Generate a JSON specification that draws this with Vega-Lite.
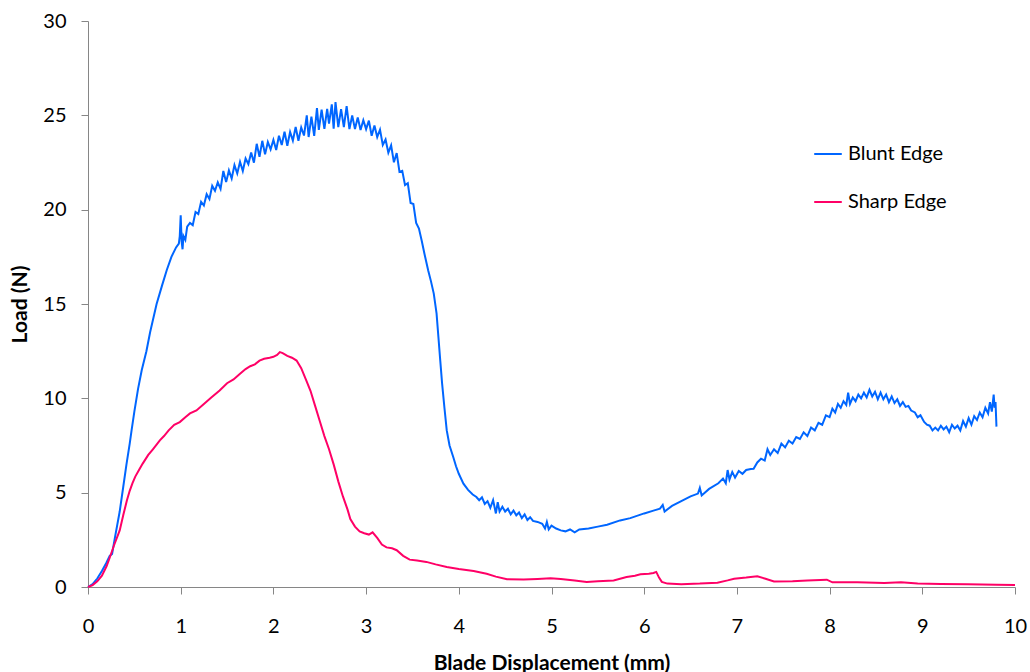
{
"$schema": "https://vega.github.io/schema/vega-lite/v6.json",
"width": 927, "height": 566,
"autosize": {"type": "none"},
"padding": {"left": 88, "top": 21, "right": 15, "bottom": 85},
"background": "white",
"config": {"font": "Lato", "view": {"stroke": null}},
"data": {"values": [
{"series":"Blunt Edge","mm":0,"N":0},
{"series":"Blunt Edge","mm":0.05,"N":0.15},
{"series":"Blunt Edge","mm":0.1,"N":0.45},
{"series":"Blunt Edge","mm":0.15,"N":0.85},
{"series":"Blunt Edge","mm":0.2,"N":1.3},
{"series":"Blunt Edge","mm":0.234,"N":1.65},
{"series":"Blunt Edge","mm":0.26,"N":1.75},
{"series":"Blunt Edge","mm":0.29,"N":2.6},
{"series":"Blunt Edge","mm":0.342,"N":4.0},
{"series":"Blunt Edge","mm":0.38,"N":5.3},
{"series":"Blunt Edge","mm":0.415,"N":6.5},
{"series":"Blunt Edge","mm":0.45,"N":7.6},
{"series":"Blunt Edge","mm":0.47,"N":8.3},
{"series":"Blunt Edge","mm":0.5,"N":9.3},
{"series":"Blunt Edge","mm":0.54,"N":10.5},
{"series":"Blunt Edge","mm":0.58,"N":11.5},
{"series":"Blunt Edge","mm":0.63,"N":12.5},
{"series":"Blunt Edge","mm":0.67,"N":13.5},
{"series":"Blunt Edge","mm":0.74,"N":15.0},
{"series":"Blunt Edge","mm":0.8,"N":16.0},
{"series":"Blunt Edge","mm":0.85,"N":16.8},
{"series":"Blunt Edge","mm":0.9,"N":17.5},
{"series":"Blunt Edge","mm":0.95,"N":18.0},
{"series":"Blunt Edge","mm":0.98,"N":18.2},
{"series":"Blunt Edge","mm":0.99,"N":18.6},
{"series":"Blunt Edge","mm":1.0,"N":19.7},
{"series":"Blunt Edge","mm":1.01,"N":18.3},
{"series":"Blunt Edge","mm":1.02,"N":17.9},
{"series":"Blunt Edge","mm":1.03,"N":18.6},
{"series":"Blunt Edge","mm":1.05,"N":18.4},
{"series":"Blunt Edge","mm":1.07,"N":19.1},
{"series":"Blunt Edge","mm":1.10,"N":19.3},
{"series":"Blunt Edge","mm":1.13,"N":19.18},
{"series":"Blunt Edge","mm":1.16,"N":19.88},
{"series":"Blunt Edge","mm":1.19,"N":19.77},
{"series":"Blunt Edge","mm":1.22,"N":20.42},
{"series":"Blunt Edge","mm":1.25,"N":20.22},
{"series":"Blunt Edge","mm":1.28,"N":20.82},
{"series":"Blunt Edge","mm":1.31,"N":20.57},
{"series":"Blunt Edge","mm":1.34,"N":21.26},
{"series":"Blunt Edge","mm":1.37,"N":21.0},
{"series":"Blunt Edge","mm":1.40,"N":21.45},
{"series":"Blunt Edge","mm":1.43,"N":21.1},
{"series":"Blunt Edge","mm":1.46,"N":22.05},
{"series":"Blunt Edge","mm":1.49,"N":21.46},
{"series":"Blunt Edge","mm":1.52,"N":22.08},
{"series":"Blunt Edge","mm":1.55,"N":21.65},
{"series":"Blunt Edge","mm":1.58,"N":22.36},
{"series":"Blunt Edge","mm":1.61,"N":21.92},
{"series":"Blunt Edge","mm":1.64,"N":22.54},
{"series":"Blunt Edge","mm":1.67,"N":22.05},
{"series":"Blunt Edge","mm":1.70,"N":22.71},
{"series":"Blunt Edge","mm":1.73,"N":22.42},
{"series":"Blunt Edge","mm":1.76,"N":23.03},
{"series":"Blunt Edge","mm":1.79,"N":22.49},
{"series":"Blunt Edge","mm":1.82,"N":23.49},
{"series":"Blunt Edge","mm":1.85,"N":22.8},
{"series":"Blunt Edge","mm":1.88,"N":23.65},
{"series":"Blunt Edge","mm":1.91,"N":22.93},
{"series":"Blunt Edge","mm":1.94,"N":23.59},
{"series":"Blunt Edge","mm":1.97,"N":23.2},
{"series":"Blunt Edge","mm":2.00,"N":23.7},
{"series":"Blunt Edge","mm":2.03,"N":23.16},
{"series":"Blunt Edge","mm":2.06,"N":23.92},
{"series":"Blunt Edge","mm":2.09,"N":23.43},
{"series":"Blunt Edge","mm":2.12,"N":24.13},
{"series":"Blunt Edge","mm":2.15,"N":23.39},
{"series":"Blunt Edge","mm":2.18,"N":24.12},
{"series":"Blunt Edge","mm":2.21,"N":23.66},
{"series":"Blunt Edge","mm":2.24,"N":24.38},
{"series":"Blunt Edge","mm":2.27,"N":23.65},
{"series":"Blunt Edge","mm":2.30,"N":24.36},
{"series":"Blunt Edge","mm":2.33,"N":23.93},
{"series":"Blunt Edge","mm":2.36,"N":25.0},
{"series":"Blunt Edge","mm":2.38,"N":23.85},
{"series":"Blunt Edge","mm":2.41,"N":24.93},
{"series":"Blunt Edge","mm":2.44,"N":23.91},
{"series":"Blunt Edge","mm":2.47,"N":25.38},
{"series":"Blunt Edge","mm":2.49,"N":24.23},
{"series":"Blunt Edge","mm":2.52,"N":25.3},
{"series":"Blunt Edge","mm":2.55,"N":24.28},
{"series":"Blunt Edge","mm":2.58,"N":25.34},
{"series":"Blunt Edge","mm":2.60,"N":24.56},
{"series":"Blunt Edge","mm":2.63,"N":25.58},
{"series":"Blunt Edge","mm":2.65,"N":24.29},
{"series":"Blunt Edge","mm":2.67,"N":25.7},
{"series":"Blunt Edge","mm":2.70,"N":24.37},
{"series":"Blunt Edge","mm":2.73,"N":25.33},
{"series":"Blunt Edge","mm":2.76,"N":24.38},
{"series":"Blunt Edge","mm":2.79,"N":25.49},
{"series":"Blunt Edge","mm":2.82,"N":24.27},
{"series":"Blunt Edge","mm":2.85,"N":24.99},
{"series":"Blunt Edge","mm":2.88,"N":24.27},
{"series":"Blunt Edge","mm":2.91,"N":24.89},
{"series":"Blunt Edge","mm":2.94,"N":24.22},
{"series":"Blunt Edge","mm":2.97,"N":24.74},
{"series":"Blunt Edge","mm":3.00,"N":24.27},
{"series":"Blunt Edge","mm":3.03,"N":24.72},
{"series":"Blunt Edge","mm":3.06,"N":23.92},
{"series":"Blunt Edge","mm":3.09,"N":24.46},
{"series":"Blunt Edge","mm":3.12,"N":23.85},
{"series":"Blunt Edge","mm":3.15,"N":24.24},
{"series":"Blunt Edge","mm":3.18,"N":23.43},
{"series":"Blunt Edge","mm":3.21,"N":23.72},
{"series":"Blunt Edge","mm":3.24,"N":23.02},
{"series":"Blunt Edge","mm":3.27,"N":23.41},
{"series":"Blunt Edge","mm":3.30,"N":22.51},
{"series":"Blunt Edge","mm":3.33,"N":23.0},
{"series":"Blunt Edge","mm":3.36,"N":22.0},
{"series":"Blunt Edge","mm":3.39,"N":22.06},
{"series":"Blunt Edge","mm":3.42,"N":21.3},
{"series":"Blunt Edge","mm":3.45,"N":21.4},
{"series":"Blunt Edge","mm":3.48,"N":20.35},
{"series":"Blunt Edge","mm":3.51,"N":20.3},
{"series":"Blunt Edge","mm":3.54,"N":19.3},
{"series":"Blunt Edge","mm":3.57,"N":19.0},
{"series":"Blunt Edge","mm":3.60,"N":18.35},
{"series":"Blunt Edge","mm":3.63,"N":17.65},
{"series":"Blunt Edge","mm":3.67,"N":16.78},
{"series":"Blunt Edge","mm":3.70,"N":16.2},
{"series":"Blunt Edge","mm":3.73,"N":15.55},
{"series":"Blunt Edge","mm":3.76,"N":14.5},
{"series":"Blunt Edge","mm":3.78,"N":13.25},
{"series":"Blunt Edge","mm":3.80,"N":12.0},
{"series":"Blunt Edge","mm":3.82,"N":10.78},
{"series":"Blunt Edge","mm":3.845,"N":9.5},
{"series":"Blunt Edge","mm":3.87,"N":8.3},
{"series":"Blunt Edge","mm":3.90,"N":7.5},
{"series":"Blunt Edge","mm":3.94,"N":6.89},
{"series":"Blunt Edge","mm":3.97,"N":6.4},
{"series":"Blunt Edge","mm":4.00,"N":6.0},
{"series":"Blunt Edge","mm":4.05,"N":5.48},
{"series":"Blunt Edge","mm":4.10,"N":5.15},
{"series":"Blunt Edge","mm":4.15,"N":4.9},
{"series":"Blunt Edge","mm":4.19,"N":4.77},
{"series":"Blunt Edge","mm":4.22,"N":4.6},
{"series":"Blunt Edge","mm":4.25,"N":4.75},
{"series":"Blunt Edge","mm":4.28,"N":4.4},
{"series":"Blunt Edge","mm":4.31,"N":4.55},
{"series":"Blunt Edge","mm":4.34,"N":4.2},
{"series":"Blunt Edge","mm":4.37,"N":4.6},
{"series":"Blunt Edge","mm":4.40,"N":3.9},
{"series":"Blunt Edge","mm":4.42,"N":4.5},
{"series":"Blunt Edge","mm":4.44,"N":4.0},
{"series":"Blunt Edge","mm":4.47,"N":4.25},
{"series":"Blunt Edge","mm":4.50,"N":4.0},
{"series":"Blunt Edge","mm":4.53,"N":4.15},
{"series":"Blunt Edge","mm":4.56,"N":3.85},
{"series":"Blunt Edge","mm":4.59,"N":4.05},
{"series":"Blunt Edge","mm":4.62,"N":3.8},
{"series":"Blunt Edge","mm":4.65,"N":3.95},
{"series":"Blunt Edge","mm":4.68,"N":3.65},
{"series":"Blunt Edge","mm":4.71,"N":3.85},
{"series":"Blunt Edge","mm":4.74,"N":3.55},
{"series":"Blunt Edge","mm":4.77,"N":3.7},
{"series":"Blunt Edge","mm":4.80,"N":3.5},
{"series":"Blunt Edge","mm":4.85,"N":3.45},
{"series":"Blunt Edge","mm":4.90,"N":3.35},
{"series":"Blunt Edge","mm":4.93,"N":3.1},
{"series":"Blunt Edge","mm":4.95,"N":3.45},
{"series":"Blunt Edge","mm":4.97,"N":3.05},
{"series":"Blunt Edge","mm":5.00,"N":3.25},
{"series":"Blunt Edge","mm":5.05,"N":3.1},
{"series":"Blunt Edge","mm":5.10,"N":3.0},
{"series":"Blunt Edge","mm":5.15,"N":2.95},
{"series":"Blunt Edge","mm":5.20,"N":3.05},
{"series":"Blunt Edge","mm":5.25,"N":2.9},
{"series":"Blunt Edge","mm":5.30,"N":3.05},
{"series":"Blunt Edge","mm":5.40,"N":3.1},
{"series":"Blunt Edge","mm":5.50,"N":3.2},
{"series":"Blunt Edge","mm":5.60,"N":3.3},
{"series":"Blunt Edge","mm":5.74,"N":3.53},
{"series":"Blunt Edge","mm":5.85,"N":3.65},
{"series":"Blunt Edge","mm":6.00,"N":3.9},
{"series":"Blunt Edge","mm":6.10,"N":4.05},
{"series":"Blunt Edge","mm":6.17,"N":4.15},
{"series":"Blunt Edge","mm":6.20,"N":4.35},
{"series":"Blunt Edge","mm":6.22,"N":4.0},
{"series":"Blunt Edge","mm":6.30,"N":4.3},
{"series":"Blunt Edge","mm":6.40,"N":4.55},
{"series":"Blunt Edge","mm":6.50,"N":4.8},
{"series":"Blunt Edge","mm":6.58,"N":4.95},
{"series":"Blunt Edge","mm":6.60,"N":5.25},
{"series":"Blunt Edge","mm":6.62,"N":4.85},
{"series":"Blunt Edge","mm":6.70,"N":5.2},
{"series":"Blunt Edge","mm":6.80,"N":5.5},
{"series":"Blunt Edge","mm":6.85,"N":5.75},
{"series":"Blunt Edge","mm":6.88,"N":5.5},
{"series":"Blunt Edge","mm":6.90,"N":6.2},
{"series":"Blunt Edge","mm":6.92,"N":5.7},
{"series":"Blunt Edge","mm":6.95,"N":6.1},
{"series":"Blunt Edge","mm":6.98,"N":5.8},
{"series":"Blunt Edge","mm":7.02,"N":6.15},
{"series":"Blunt Edge","mm":7.06,"N":6.0},
{"series":"Blunt Edge","mm":7.10,"N":6.2},
{"series":"Blunt Edge","mm":7.15,"N":6.25},
{"series":"Blunt Edge","mm":7.18,"N":6.27},
{"series":"Blunt Edge","mm":7.22,"N":6.6},
{"series":"Blunt Edge","mm":7.26,"N":6.8},
{"series":"Blunt Edge","mm":7.30,"N":6.7},
{"series":"Blunt Edge","mm":7.33,"N":7.3},
{"series":"Blunt Edge","mm":7.36,"N":7.0},
{"series":"Blunt Edge","mm":7.40,"N":7.3},
{"series":"Blunt Edge","mm":7.44,"N":7.1},
{"series":"Blunt Edge","mm":7.48,"N":7.6},
{"series":"Blunt Edge","mm":7.52,"N":7.4},
{"series":"Blunt Edge","mm":7.56,"N":7.75},
{"series":"Blunt Edge","mm":7.60,"N":7.6},
{"series":"Blunt Edge","mm":7.64,"N":7.95},
{"series":"Blunt Edge","mm":7.68,"N":7.85},
{"series":"Blunt Edge","mm":7.72,"N":8.2},
{"series":"Blunt Edge","mm":7.76,"N":8.0},
{"series":"Blunt Edge","mm":7.80,"N":8.45},
{"series":"Blunt Edge","mm":7.84,"N":8.3},
{"series":"Blunt Edge","mm":7.88,"N":8.7},
{"series":"Blunt Edge","mm":7.92,"N":8.6},
{"series":"Blunt Edge","mm":7.96,"N":9.1},
{"series":"Blunt Edge","mm":8.00,"N":9.0},
{"series":"Blunt Edge","mm":8.03,"N":9.45},
{"series":"Blunt Edge","mm":8.06,"N":9.25},
{"series":"Blunt Edge","mm":8.09,"N":9.7},
{"series":"Blunt Edge","mm":8.12,"N":9.5},
{"series":"Blunt Edge","mm":8.15,"N":9.85},
{"series":"Blunt Edge","mm":8.18,"N":9.65},
{"series":"Blunt Edge","mm":8.20,"N":10.3},
{"series":"Blunt Edge","mm":8.22,"N":9.7},
{"series":"Blunt Edge","mm":8.25,"N":10.05},
{"series":"Blunt Edge","mm":8.28,"N":9.85},
{"series":"Blunt Edge","mm":8.31,"N":10.2},
{"series":"Blunt Edge","mm":8.34,"N":10.0},
{"series":"Blunt Edge","mm":8.37,"N":10.3},
{"series":"Blunt Edge","mm":8.40,"N":10.05},
{"series":"Blunt Edge","mm":8.43,"N":10.45},
{"series":"Blunt Edge","mm":8.46,"N":10.1},
{"series":"Blunt Edge","mm":8.49,"N":10.35},
{"series":"Blunt Edge","mm":8.52,"N":9.95},
{"series":"Blunt Edge","mm":8.55,"N":10.3},
{"series":"Blunt Edge","mm":8.58,"N":9.95},
{"series":"Blunt Edge","mm":8.61,"N":10.2},
{"series":"Blunt Edge","mm":8.64,"N":9.8},
{"series":"Blunt Edge","mm":8.67,"N":10.1},
{"series":"Blunt Edge","mm":8.70,"N":9.75},
{"series":"Blunt Edge","mm":8.73,"N":9.95},
{"series":"Blunt Edge","mm":8.76,"N":9.6},
{"series":"Blunt Edge","mm":8.79,"N":9.8},
{"series":"Blunt Edge","mm":8.82,"N":9.55},
{"series":"Blunt Edge","mm":8.85,"N":9.6},
{"series":"Blunt Edge","mm":8.88,"N":9.35},
{"series":"Blunt Edge","mm":8.92,"N":9.25},
{"series":"Blunt Edge","mm":8.95,"N":9.0},
{"series":"Blunt Edge","mm":8.98,"N":9.1},
{"series":"Blunt Edge","mm":9.02,"N":8.75},
{"series":"Blunt Edge","mm":9.05,"N":8.6},
{"series":"Blunt Edge","mm":9.08,"N":8.55},
{"series":"Blunt Edge","mm":9.11,"N":8.3},
{"series":"Blunt Edge","mm":9.14,"N":8.45},
{"series":"Blunt Edge","mm":9.17,"N":8.3},
{"series":"Blunt Edge","mm":9.20,"N":8.55},
{"series":"Blunt Edge","mm":9.23,"N":8.35},
{"series":"Blunt Edge","mm":9.26,"N":8.5},
{"series":"Blunt Edge","mm":9.29,"N":8.2},
{"series":"Blunt Edge","mm":9.32,"N":8.6},
{"series":"Blunt Edge","mm":9.35,"N":8.4},
{"series":"Blunt Edge","mm":9.38,"N":8.55},
{"series":"Blunt Edge","mm":9.41,"N":8.3},
{"series":"Blunt Edge","mm":9.44,"N":8.8},
{"series":"Blunt Edge","mm":9.47,"N":8.5},
{"series":"Blunt Edge","mm":9.50,"N":8.95},
{"series":"Blunt Edge","mm":9.53,"N":8.6},
{"series":"Blunt Edge","mm":9.56,"N":9.05},
{"series":"Blunt Edge","mm":9.59,"N":8.85},
{"series":"Blunt Edge","mm":9.62,"N":9.25},
{"series":"Blunt Edge","mm":9.65,"N":9.0},
{"series":"Blunt Edge","mm":9.68,"N":9.5},
{"series":"Blunt Edge","mm":9.71,"N":9.2},
{"series":"Blunt Edge","mm":9.73,"N":9.8},
{"series":"Blunt Edge","mm":9.75,"N":9.3},
{"series":"Blunt Edge","mm":9.77,"N":10.2},
{"series":"Blunt Edge","mm":9.78,"N":9.5},
{"series":"Blunt Edge","mm":9.79,"N":9.8},
{"series":"Blunt Edge","mm":9.80,"N":8.5},
{"series":"Sharp Edge","mm":0,"N":0},
{"series":"Sharp Edge","mm":0.05,"N":0.1},
{"series":"Sharp Edge","mm":0.1,"N":0.3},
{"series":"Sharp Edge","mm":0.15,"N":0.6},
{"series":"Sharp Edge","mm":0.2,"N":1.1},
{"series":"Sharp Edge","mm":0.234,"N":1.55},
{"series":"Sharp Edge","mm":0.28,"N":2.2},
{"series":"Sharp Edge","mm":0.342,"N":3.0},
{"series":"Sharp Edge","mm":0.38,"N":3.8},
{"series":"Sharp Edge","mm":0.42,"N":4.6},
{"series":"Sharp Edge","mm":0.45,"N":5.1},
{"series":"Sharp Edge","mm":0.48,"N":5.5},
{"series":"Sharp Edge","mm":0.51,"N":5.85},
{"series":"Sharp Edge","mm":0.55,"N":6.2},
{"series":"Sharp Edge","mm":0.59,"N":6.54},
{"series":"Sharp Edge","mm":0.65,"N":7.0},
{"series":"Sharp Edge","mm":0.7,"N":7.3},
{"series":"Sharp Edge","mm":0.775,"N":7.77},
{"series":"Sharp Edge","mm":0.82,"N":8.0},
{"series":"Sharp Edge","mm":0.87,"N":8.3},
{"series":"Sharp Edge","mm":0.93,"N":8.6},
{"series":"Sharp Edge","mm":0.99,"N":8.74},
{"series":"Sharp Edge","mm":1.05,"N":9.0},
{"series":"Sharp Edge","mm":1.1,"N":9.2},
{"series":"Sharp Edge","mm":1.17,"N":9.36},
{"series":"Sharp Edge","mm":1.25,"N":9.7},
{"series":"Sharp Edge","mm":1.33,"N":10.05},
{"series":"Sharp Edge","mm":1.42,"N":10.42},
{"series":"Sharp Edge","mm":1.5,"N":10.8},
{"series":"Sharp Edge","mm":1.57,"N":11.0},
{"series":"Sharp Edge","mm":1.64,"N":11.3},
{"series":"Sharp Edge","mm":1.7,"N":11.55},
{"series":"Sharp Edge","mm":1.75,"N":11.7},
{"series":"Sharp Edge","mm":1.8,"N":11.8},
{"series":"Sharp Edge","mm":1.85,"N":12.0},
{"series":"Sharp Edge","mm":1.9,"N":12.1},
{"series":"Sharp Edge","mm":1.96,"N":12.15},
{"series":"Sharp Edge","mm":2.0,"N":12.2},
{"series":"Sharp Edge","mm":2.04,"N":12.3},
{"series":"Sharp Edge","mm":2.07,"N":12.45},
{"series":"Sharp Edge","mm":2.1,"N":12.4},
{"series":"Sharp Edge","mm":2.15,"N":12.25},
{"series":"Sharp Edge","mm":2.2,"N":12.15},
{"series":"Sharp Edge","mm":2.25,"N":12.0},
{"series":"Sharp Edge","mm":2.3,"N":11.6},
{"series":"Sharp Edge","mm":2.35,"N":11.0},
{"series":"Sharp Edge","mm":2.4,"N":10.4},
{"series":"Sharp Edge","mm":2.45,"N":9.6},
{"series":"Sharp Edge","mm":2.5,"N":8.8},
{"series":"Sharp Edge","mm":2.55,"N":8.0},
{"series":"Sharp Edge","mm":2.6,"N":7.3},
{"series":"Sharp Edge","mm":2.65,"N":6.5},
{"series":"Sharp Edge","mm":2.7,"N":5.6},
{"series":"Sharp Edge","mm":2.75,"N":4.8},
{"series":"Sharp Edge","mm":2.8,"N":4.1},
{"series":"Sharp Edge","mm":2.83,"N":3.6},
{"series":"Sharp Edge","mm":2.88,"N":3.2},
{"series":"Sharp Edge","mm":2.93,"N":2.95},
{"series":"Sharp Edge","mm":2.98,"N":2.85},
{"series":"Sharp Edge","mm":3.03,"N":2.78},
{"series":"Sharp Edge","mm":3.07,"N":2.9},
{"series":"Sharp Edge","mm":3.12,"N":2.6},
{"series":"Sharp Edge","mm":3.17,"N":2.25},
{"series":"Sharp Edge","mm":3.22,"N":2.1},
{"series":"Sharp Edge","mm":3.28,"N":2.05},
{"series":"Sharp Edge","mm":3.33,"N":1.95},
{"series":"Sharp Edge","mm":3.4,"N":1.65},
{"series":"Sharp Edge","mm":3.47,"N":1.45},
{"series":"Sharp Edge","mm":3.55,"N":1.4},
{"series":"Sharp Edge","mm":3.65,"N":1.33},
{"series":"Sharp Edge","mm":3.75,"N":1.2},
{"series":"Sharp Edge","mm":3.87,"N":1.06},
{"series":"Sharp Edge","mm":4.0,"N":0.95},
{"series":"Sharp Edge","mm":4.16,"N":0.85},
{"series":"Sharp Edge","mm":4.3,"N":0.7},
{"series":"Sharp Edge","mm":4.4,"N":0.55},
{"series":"Sharp Edge","mm":4.52,"N":0.41},
{"series":"Sharp Edge","mm":4.7,"N":0.4},
{"series":"Sharp Edge","mm":4.85,"N":0.43},
{"series":"Sharp Edge","mm":4.99,"N":0.46},
{"series":"Sharp Edge","mm":5.1,"N":0.42},
{"series":"Sharp Edge","mm":5.25,"N":0.35},
{"series":"Sharp Edge","mm":5.38,"N":0.27},
{"series":"Sharp Edge","mm":5.5,"N":0.3},
{"series":"Sharp Edge","mm":5.67,"N":0.35},
{"series":"Sharp Edge","mm":5.81,"N":0.53},
{"series":"Sharp Edge","mm":5.9,"N":0.6},
{"series":"Sharp Edge","mm":5.96,"N":0.67},
{"series":"Sharp Edge","mm":6.05,"N":0.7},
{"series":"Sharp Edge","mm":6.1,"N":0.74},
{"series":"Sharp Edge","mm":6.13,"N":0.8},
{"series":"Sharp Edge","mm":6.16,"N":0.5},
{"series":"Sharp Edge","mm":6.19,"N":0.27},
{"series":"Sharp Edge","mm":6.25,"N":0.18},
{"series":"Sharp Edge","mm":6.4,"N":0.15},
{"series":"Sharp Edge","mm":6.6,"N":0.18},
{"series":"Sharp Edge","mm":6.79,"N":0.23},
{"series":"Sharp Edge","mm":6.9,"N":0.35},
{"series":"Sharp Edge","mm":6.97,"N":0.44},
{"series":"Sharp Edge","mm":7.1,"N":0.5},
{"series":"Sharp Edge","mm":7.22,"N":0.57},
{"series":"Sharp Edge","mm":7.3,"N":0.45},
{"series":"Sharp Edge","mm":7.4,"N":0.29},
{"series":"Sharp Edge","mm":7.6,"N":0.3},
{"series":"Sharp Edge","mm":7.76,"N":0.35},
{"series":"Sharp Edge","mm":7.97,"N":0.39},
{"series":"Sharp Edge","mm":8.03,"N":0.25},
{"series":"Sharp Edge","mm":8.3,"N":0.25},
{"series":"Sharp Edge","mm":8.59,"N":0.21},
{"series":"Sharp Edge","mm":8.77,"N":0.25},
{"series":"Sharp Edge","mm":8.95,"N":0.18},
{"series":"Sharp Edge","mm":9.2,"N":0.16},
{"series":"Sharp Edge","mm":9.49,"N":0.14},
{"series":"Sharp Edge","mm":9.8,"N":0.12},
{"series":"Sharp Edge","mm":10.0,"N":0.11}
]},
"mark": {"type": "line", "strokeWidth": 2},
"encoding": {
"x": {"field": "mm", "type": "quantitative", "scale": {"domain": [0, 10], "nice": false},
 "axis": {"title": "Blade Displacement (mm)", "values": [0,1,2,3,4,5,6,7,8,9,10], "grid": false,
  "domainColor": "#868686", "tickColor": "#868686", "tickSize": 7, "labelFontSize": 20, "labelColor": "#000000",
  "labelPadding": 22, "labelFlush": false, "titleFontSize": 21, "titleFontWeight": "bold", "titleColor": "#000000",
  "titleY": 82, "titleBaseline": "alphabetic"}},
"y": {"field": "N", "type": "quantitative", "scale": {"domain": [0, 30], "nice": false},
 "axis": {"title": "Load (N)", "values": [0,5,10,15,20,25,30], "grid": false,
  "domainColor": "#868686", "tickColor": "#868686", "tickSize": 7, "labelFontSize": 20, "labelColor": "#000000",
  "labelPadding": 15, "titleFontSize": 21, "titleFontWeight": "bold", "titleColor": "#000000",
  "titleX": -62, "titleBaseline": "alphabetic"}},
"color": {"field": "series", "type": "nominal",
 "scale": {"domain": ["Blunt Edge", "Sharp Edge"], "range": ["#0066FF", "#FF0066"]},
 "legend": {"title": null, "orient": "none", "legendX": 725, "legendY": 118, "symbolType": "stroke",
  "symbolSize": 760, "symbolStrokeWidth": 2, "labelFontSize": 20, "labelOffset": 5, "rowPadding": 23,
  "labelColor": "#000000"}}
}
}
